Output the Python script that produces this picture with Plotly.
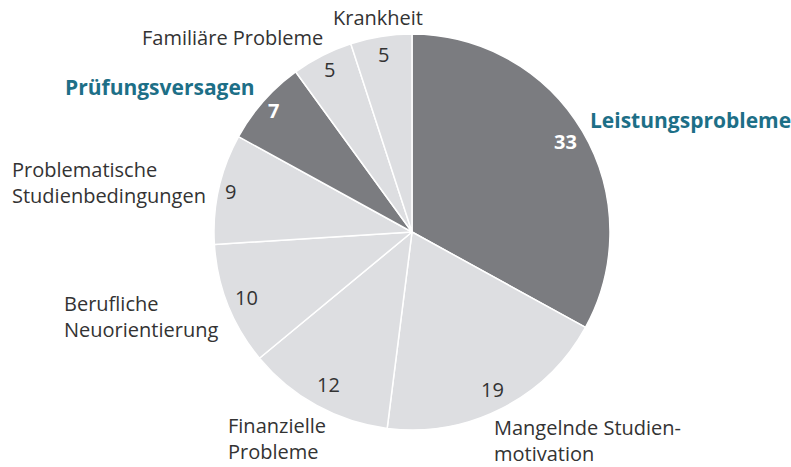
import math
import plotly.graph_objects as go

# ---- data ----
categories = ["Leistungsprobleme", "Mangelnde Studien-<br>motivation", "Finanzielle<br>Probleme",
              "Berufliche<br>Neuorientierung", "Problematische<br>Studienbedingungen",
              "Prüfungsversagen", "Familiäre Probleme", "Krankheit"]
values = [33, 19, 12, 10, 9, 7, 5, 5]
highlight = [True, False, False, False, False, True, False, False]

# ---- style ----
W, H = 791, 467
DARK = "#7b7c80"
LIGHT = "#dddee1"
TEAL = "#1d6f87"
TXT = "#333333"
FONT = "Open Sans"
cx, cy, R = 412, 232, 198

def px(x):
    return x / W

def py(y):
    return 1 - y / H

colors = [DARK if h else LIGHT for h in highlight]

fig = go.Figure(go.Pie(
    labels=categories, values=values, sort=False, direction="clockwise", rotation=0,
    marker=dict(colors=colors, line=dict(color="white", width=1.5)),
    textinfo="none", hoverinfo="label+value", showlegend=False,
    domain=dict(x=[px(cx - R), px(cx + R)], y=[py(cy + R), py(cy - R)]),
))

annotations = []
# value labels placed along each slice's mid angle
rad_frac = [0.9, 0.89, 0.88, 0.9, 0.94, 0.93, 0.92, 0.91]
total = sum(values)
cum = 0
for v, h, rf in zip(values, highlight, rad_frac):
    mid = (cum + v / 2) / total * 2 * math.pi
    cum += v
    x = cx + rf * R * math.sin(mid)
    y = cy - rf * R * math.cos(mid)
    annotations.append(dict(
        x=px(x), y=py(y), xref="paper", yref="paper", text=f"<b>{v}</b>" if h else str(v),
        showarrow=False, xanchor="center", yanchor="middle",
        font=dict(family=FONT, size=20, color="white" if h else TXT)))

# category labels (layout positions)
label_pos = [(588, 120, "left"), (492, 440, "left"), (226, 438, "left"), (62, 316, "left"),
             (10, 182, "left"), (257, 87, "right"), (325, 37, "right"), (378, 18, "center")]
for cat, h, (x, y, anc) in zip(categories, highlight, label_pos):
    annotations.append(dict(
        x=px(x), y=py(y), xref="paper", yref="paper",
        text=f"<b>{cat}</b>" if h else cat, showarrow=False,
        xanchor=anc, yanchor="middle", align=anc,
        font=dict(family=FONT, size=21 if h else 20, color=TEAL if h else TXT)))

fig.update_layout(
    width=W, height=H, margin=dict(l=0, r=0, t=0, b=0),
    paper_bgcolor="white", plot_bgcolor="white",
    annotations=annotations,
)
fig.write_html("out.html", config={"displayModeBar": False},
               post_script="document.body.style.margin='0';document.body.style.overflow='hidden';")
